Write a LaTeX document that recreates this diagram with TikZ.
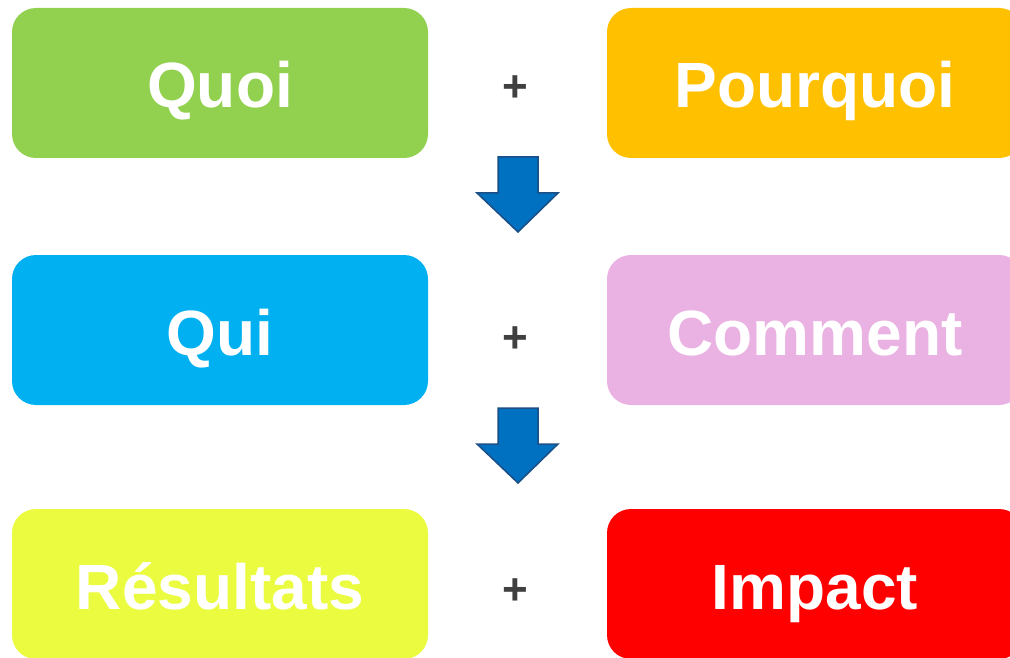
\documentclass[tikz,border=0pt]{standalone}
\usepackage{fontspec}
\setmainfont{Liberation Sans}
\definecolor{cgreen}{HTML}{92D050}
\definecolor{corange}{HTML}{FFC000}
\definecolor{cblue}{HTML}{00B0F0}
\definecolor{cpink}{HTML}{EAB1E3}
\definecolor{cyellow}{HTML}{EBFC40}
\definecolor{cred}{HTML}{FF0000}
\definecolor{carrow}{HTML}{0070C0}
\definecolor{carrowline}{HTML}{1B4F85}
\definecolor{cplus}{HTML}{404040}
\tikzset{
  box/.style={rounded corners=24pt, minimum width=416pt, minimum height=150pt, inner sep=0pt,
    text=white, font=\fontsize{64}{70}\selectfont\bfseries, text height=50pt, text depth=0pt},
  plus/.style={text=cplus, font=\fontsize{44}{48}\selectfont\bfseries, inner sep=0pt},
  downarrow/.style={fill=carrow, draw=carrowline, line width=1.5pt, line join=miter}
}
\begin{document}
\begin{tikzpicture}[x=1pt,y=-1pt]
\useasboundingbox (0,0) rectangle (1010,658);
\begin{scope}
\clip (0,0) rectangle (1010,658);
\node[box, fill=cgreen] (quoi) at (220,83) {Quoi};
\node[box, fill=corange] (pourquoi) at (815,83) {Pourquoi};
\node[box, fill=cblue] (qui) at (220,330) {Qui};
\node[box, fill=cpink] (comment) at (815,330) {Comment};
\node[box, fill=cyellow] (resultats) at (220,584) {Résultats};
\node[box, fill=cred] (impact) at (815,584) {Impact};
\end{scope}
\node[plus] (p1) at (515,89) {+};
\node[plus] (p2) at (515,340) {+};
\node[plus] (p3) at (515,592) {+};
\draw[downarrow] (498,157) -- (538,157) -- (538,193) -- (558,193) -- (518,232) -- (477,193) -- (498,193) -- cycle;
\draw[downarrow] (498,408) -- (538,408) -- (538,444) -- (558,444) -- (518,483) -- (477,444) -- (498,444) -- cycle;
\end{tikzpicture}
\end{document}
